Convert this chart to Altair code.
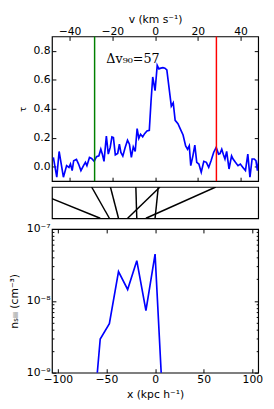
import altair as alt
import pandas as pd

# ---------------- data ----------------
v_kms = [-47.6, -46.0, -44.9, -42.9, -41.4, -40.3, -39.6, -38.8, -38.1, -36.8,
         -35.8, -34.7, -33.5, -32.6, -31.9, -30.7, -29.7, -28.5, -27.4, -26.3,
         -25.4, -24.7, -23.9, -22.8, -21.9, -21.0, -20.2, -19.5, -18.6, -17.5,
         -16.7, -16.0, -15.1, -14.0, -12.9, -12.0, -11.1, -10.2, -9.3, -8.4,
         -7.6, -6.8, -5.8, -4.9, -3.8, -2.7, -1.9, -1.1, 0.0, 1.0,
         1.8, 2.7, 3.7, 4.6, 5.5, 7.6, 8.5, 9.4, 10.7, 11.9,
         13.1, 14.3, 15.2, 16.0, 16.7, 17.7, 18.6, 19.5, 20.5, 21.6,
         22.8, 24.0, 25.1, 26.2, 27.4, 28.6, 29.7, 30.4, 31.2, 32.0,
         32.7, 33.5, 34.6, 35.8, 36.5, 37.6, 38.8, 39.9, 41.1, 42.3,
         43.4, 44.4, 45.4, 46.4, 47.2, 47.9, 48.7]
tau = [0.064, -0.073, 0.105, -0.073, 0.007, -0.005, 0.018, -0.027, 0.041, 0.050,
       0.018, -0.027, 0.007, 0.030, 0.007, 0.064, 0.057, 0.037, 0.069, 0.075,
       0.121, 0.087, 0.037, 0.212, 0.087, 0.133, 0.206, 0.201, 0.082, 0.091,
       0.155, 0.098, 0.073, 0.133, 0.183, 0.155, 0.064, 0.137, 0.105, 0.263,
       0.196, 0.224, 0.206, 0.228, 0.247, 0.251, 0.450, 0.620, 0.525, 0.700,
       0.676, 0.681, 0.685, 0.681, 0.669, 0.418, 0.441, 0.320, 0.297, 0.258,
       0.219, 0.144, 0.121, 0.144, 0.007, 0.075, 0.149, 0.030, 0.018, -0.039,
       0.037, 0.030, -0.005, 0.041, 0.098, 0.133, 0.087, 0.091, 0.121, 0.082,
       0.053, 0.105, -0.016, 0.075, 0.053, 0.030, 0.007, 0.018, -0.005, -0.027,
       0.087, -0.073, 0.053, 0.053, 0.041, -0.027, 0.064]

v90_bounds = [-28.3, 28.7]
v90_colors = ["#008000", "#ff0000"]
dv90_label = "\u0394v\u2089\u2080=57"
dv90_pos = [-22.8, 0.715]

x_kpc = [-65.8, -56.4, -47.0, -37.6, -28.2, -18.8, -9.4, 0.0, 9.4]
n_siii = [1.0e-10, 2.94e-9, 4.8e-9, 2.56e-8, 1.44e-8, 3.62e-8, 7.3e-9, 4.47e-8, 1.5e-10]

map_x = [-56.4, -47.0, -37.6, -28.2, -18.8, -9.4, 0.0]
map_v = [-61.6, -29.7, -20.9, 2.3, -9.0, 28.4, 1.5]

v_ticks = [-40, -20, 0, 20, 40]
tau_ticks = [0.0, 0.2, 0.4, 0.6, 0.8]
x_ticks = [-100, -50, 0, 50, 100]
n_major = [1e-9, 1e-8, 1e-7]
n_minor = [k * 10.0 ** e for e in (-9, -8) for k in range(2, 10)]

V_MAX = 48.25
X_MAX = 106.0
W = 211
FONT = "DejaVu Sans"

# ---------------- helpers ----------------
def lab_axis(orient, values, title, fmt=None, label_expr=None, title_pad=4,
             title_size=11, label_pad=2):
    kw = dict(orient=orient, values=values, title=title, offset=-4, tickSize=4,
              domain=False, grid=False, labelPadding=label_pad, tickColor="black",
              titlePadding=title_pad, titleFontSize=title_size)
    if fmt is not None:
        kw["format"] = fmt
    if label_expr is not None:
        kw["labelExpr"] = label_expr
    return alt.Axis(**kw)


def tick_axis(orient, values, size=4):
    return alt.Axis(orient=orient, values=values, labels=False, title=None,
                    offset=-size, tickSize=size, domain=False, grid=False,
                    tickColor="black")


vscale = alt.Scale(domain=[-V_MAX, V_MAX], nice=False, zero=False)
tscale = alt.Scale(domain=[-0.1, 0.9], nice=False, zero=False)
xscale = alt.Scale(domain=[-X_MAX, X_MAX], nice=False, zero=False)
nscale = alt.Scale(type="log", domain=[1e-9, 1e-7], nice=False)

# ---------------- top panel ----------------
spec_df = pd.DataFrame({"v": v_kms, "tau": tau})
rule_df = pd.DataFrame({"v": v90_bounds, "c": v90_colors})
text_df = pd.DataFrame({"v": [dv90_pos[0]], "tau": [dv90_pos[1]], "label": [dv90_label]})

spec_line = alt.Chart(spec_df).mark_line(color="#0000ff", strokeWidth=1.7, clip=True).encode(
    x=alt.X("v:Q", scale=vscale, axis=lab_axis("top", v_ticks, "v (km s\u207b\u00b9)", fmt="d",
                                               title_pad=1, label_pad=0)),
    y=alt.Y("tau:Q", scale=tscale, axis=lab_axis("left", tau_ticks, "\u03c4", fmt=".1f",
                                                 title_pad=6, title_size=9)),
)
spec_ghost = alt.Chart(spec_df).mark_line(opacity=0).encode(
    x=alt.X("v:Q", scale=vscale, axis=tick_axis("bottom", v_ticks)),
    y=alt.Y("tau:Q", scale=tscale, axis=tick_axis("right", tau_ticks)),
)
v90_rules = alt.Chart(rule_df).mark_rule(strokeWidth=1.5).encode(
    x=alt.X("v:Q", scale=vscale, axis=None),
    color=alt.Color("c:N", scale=None),
)
v90_text = alt.Chart(text_df).mark_text(font="DejaVu Serif", fontSize=13, align="left",
                                        baseline="alphabetic", color="black").encode(
    x=alt.X("v:Q", scale=vscale, axis=None),
    y=alt.Y("tau:Q", scale=tscale, axis=None),
    text="label:N",
)
top = alt.layer(spec_line, spec_ghost, v90_rules, v90_text).resolve_scale(
    x="independent", y="independent").properties(width=W, height=148)

# ---------------- middle panel ----------------
map_df = pd.DataFrame({"x": map_x, "v": map_v})
mid = alt.Chart(map_df).transform_calculate(
    xv=f"datum.v * {X_MAX / V_MAX}", y0="0", y1="1"
).mark_rule(color="black", strokeWidth=1.5, clip=True).encode(
    x=alt.X("x:Q", scale=xscale, axis=None),
    x2="xv:Q",
    y=alt.Y("y0:Q", scale=alt.Scale(domain=[0, 1], nice=False), axis=None),
    y2="y1:Q",
).properties(width=W, height=32)

# ---------------- bottom panel ----------------
n_df = pd.DataFrame({"x": x_kpc, "n": n_siii})
log_expr = "datum.value < 3e-9 ? '10\u207b\u2079' : (datum.value < 3e-8 ? '10\u207b\u2078' : '10\u207b\u2077')"
n_line = alt.Chart(n_df).mark_line(color="#0000ff", strokeWidth=1.7, clip=True).encode(
    x=alt.X("x:Q", scale=xscale, axis=lab_axis("bottom", x_ticks, "x (kpc h\u207b\u00b9)", fmt="d",
                                               title_pad=4, label_pad=1)),
    y=alt.Y("n:Q", scale=nscale, axis=lab_axis("left", n_major, "n\u209b\u1d62\u1d62\u1d62 (cm\u207b\u00b3)",
                                               label_expr=log_expr, title_pad=7)),
)
n_ghost = alt.Chart(n_df).mark_line(opacity=0).encode(
    x=alt.X("x:Q", scale=xscale, axis=tick_axis("top", x_ticks)),
    y=alt.Y("n:Q", scale=nscale, axis=tick_axis("right", n_major)),
)
n_minor_l = alt.Chart(n_df).mark_line(opacity=0).encode(
    x=alt.X("x:Q", scale=xscale, axis=None),
    y=alt.Y("n:Q", scale=nscale, axis=tick_axis("left", n_minor, size=2)),
)
n_minor_r = alt.Chart(n_df).mark_line(opacity=0).encode(
    x=alt.X("x:Q", scale=xscale, axis=None),
    y=alt.Y("n:Q", scale=nscale, axis=tick_axis("right", n_minor, size=2)),
)
bottom = alt.layer(n_line, n_ghost, n_minor_l, n_minor_r).resolve_scale(
    x="independent", y="independent").properties(width=W, height=147)

chart = alt.vconcat(top, mid, bottom, spacing=3).resolve_scale(
    x="independent", y="independent"
).properties(
    padding={"left": 0, "top": 0, "right": 2, "bottom": 0}
).configure_axis(
    labelFont=FONT, titleFont=FONT, labelFontSize=11, titleFontSize=11,
    titleFontWeight="normal", labelColor="black", titleColor="black",
).configure_view(stroke="black", strokeWidth=1.2)

chart.save("out.html", embed_options={"renderer": "svg", "actions": False})
